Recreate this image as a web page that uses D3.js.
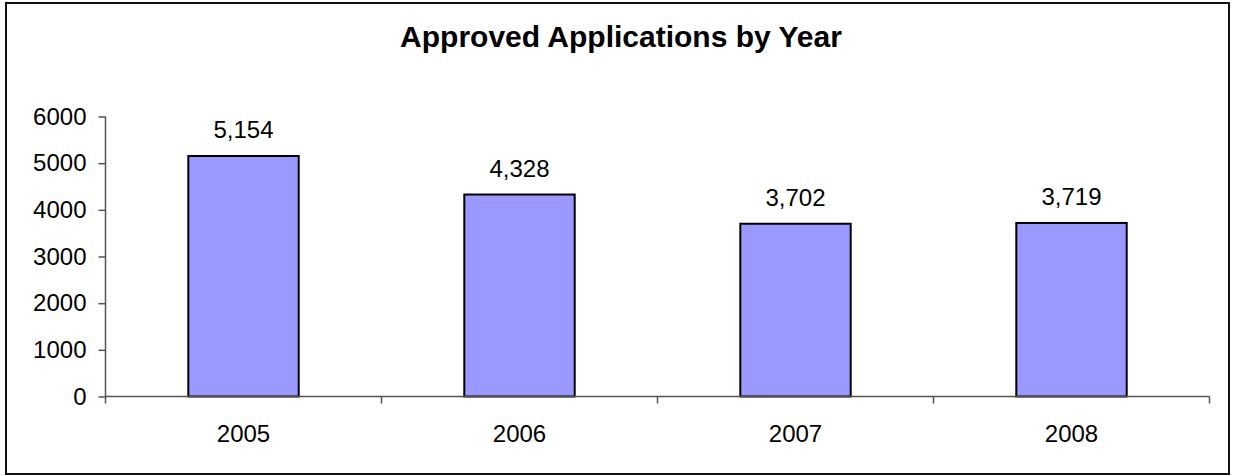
<!DOCTYPE html>
<html>
<head>
<meta charset="utf-8">
<script src="https://cdn.jsdelivr.net/npm/d3@7"></script>
<style>
  html, body { margin: 0; padding: 0; background: #fff; }
  svg { display: block; font-family: "Liberation Sans", Arial, sans-serif; }
</style>
</head>
<body>
<svg id="chart" width="1233" height="476"></svg>
<script>
// Approved applications per year
const years = ["2005", "2006", "2007", "2008"];
const approved = [5154, 4328, 3702, 3719];
const yTicks = [0, 1000, 2000, 3000, 4000, 5000, 6000];
const title = "Approved Applications by Year";

const svg = d3.select("#chart");
const W = 1233, H = 476;
const plot = { left: 105.5, right: 1209.5, top: 116.5, bottom: 396.5 };

// outer frame
svg.append("rect")
  .attr("x", 6).attr("y", 3)
  .attr("width", 1223).attr("height", 471)
  .attr("fill", "#fff")
  .attr("stroke", "#111")
  .attr("stroke-width", 2);

// title
svg.append("text")
  .attr("x", 621).attr("y", 47)
  .attr("text-anchor", "middle")
  .attr("font-size", 30)
  .attr("font-weight", "bold")
  .attr("fill", "#000")
  .text(title);

const x = d3.scaleBand()
  .domain(years)
  .range([plot.left, plot.right])
  .paddingInner(0.6)
  .paddingOuter(0.3);

const xCat = d3.scaleBand()
  .domain(years)
  .range([plot.left, plot.right]);

const y = d3.scaleLinear()
  .domain([0, 6000])
  .range([plot.bottom, plot.top]);

// bars
svg.append("g")
  .selectAll("rect")
  .data(years)
  .join("rect")
  .attr("x", d => x(d))
  .attr("y", (d, i) => y(approved[i]))
  .attr("width", x.bandwidth())
  .attr("height", (d, i) => y(0) - y(approved[i]))
  .attr("fill", "#9999FF")
  .attr("stroke", "#000")
  .attr("stroke-width", 2);

// value labels
const fmt = d3.format(",");
svg.append("g")
  .selectAll("text")
  .data(years)
  .join("text")
  .attr("x", d => x(d) + x.bandwidth() / 2)
  .attr("y", (d, i) => y(approved[i]) - 18)
  .attr("text-anchor", "middle")
  .attr("font-size", 24)
  .attr("fill", "#000")
  .text((d, i) => fmt(approved[i]));

// y axis
const yAxis = svg.append("g")
  .attr("transform", `translate(${plot.left},0)`)
  .call(d3.axisLeft(y).tickValues(yTicks).tickSize(7).tickPadding(12).tickFormat(d3.format("d")));
yAxis.select(".domain").attr("stroke", "#555").attr("stroke-width", 1.5)
  .attr("d", `M0,${plot.top}V${plot.bottom + 7}`);
yAxis.selectAll(".tick line").attr("stroke", "#555").attr("stroke-width", 1.5);
yAxis.selectAll(".tick text").attr("font-size", 24).attr("font-family", "Liberation Sans, Arial, sans-serif").attr("fill", "#000");

// x axis with tick marks at category boundaries
const xg = svg.append("g").attr("transform", `translate(0,${plot.bottom})`);
xg.append("path")
  .attr("d", `M${plot.left},0H${plot.right}`)
  .attr("stroke", "#555").attr("stroke-width", 1.5).attr("fill", "none");
xg.selectAll("line.bound")
  .data(years.slice(1).concat(["end"]))
  .join("line")
  .attr("class", "bound")
  .attr("x1", d => d === "end" ? plot.right : xCat(d))
  .attr("x2", d => d === "end" ? plot.right : xCat(d))
  .attr("y1", 0).attr("y2", 7)
  .attr("stroke", "#555").attr("stroke-width", 1.5);
xg.selectAll("text")
  .data(years)
  .join("text")
  .attr("x", d => xCat(d) + xCat.bandwidth() / 2)
  .attr("y", 45)
  .attr("text-anchor", "middle")
  .attr("font-size", 24)
  .attr("fill", "#000")
  .text(d => d);
</script>
</body>
</html>
